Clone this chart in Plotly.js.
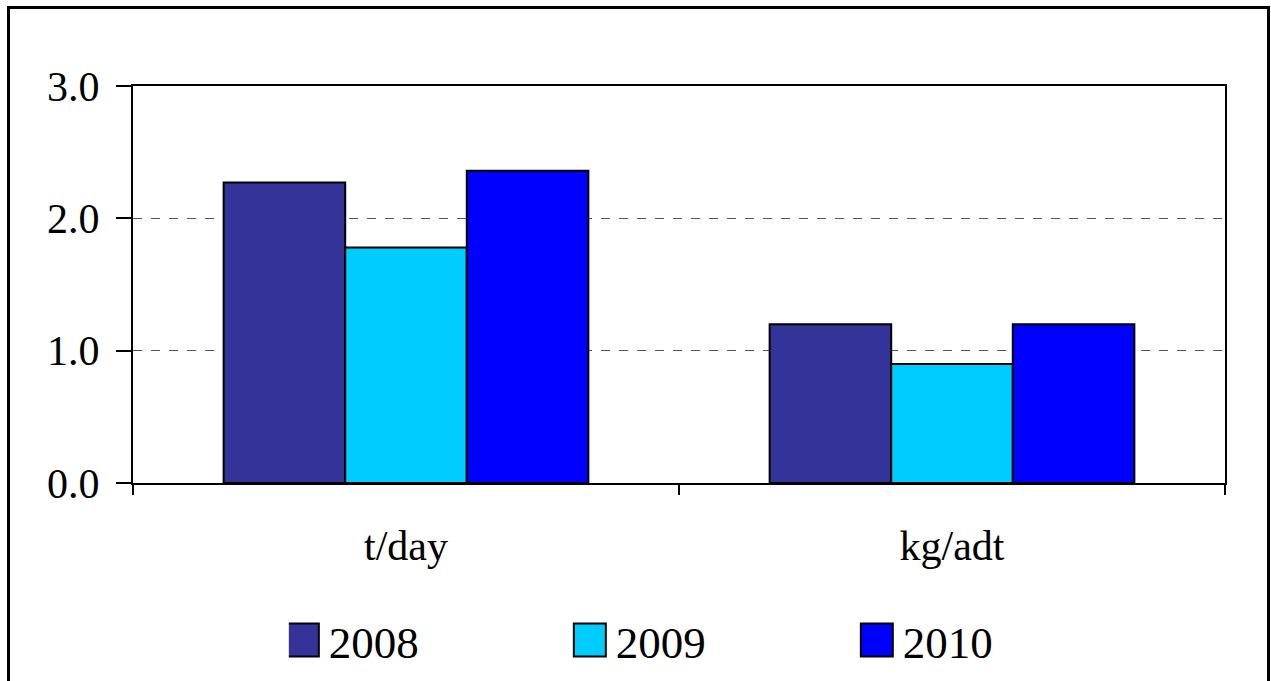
<!DOCTYPE html>
<html>
<head>
<meta charset="utf-8">
<script src="https://cdn.plot.ly/plotly-3.0.1.min.js"></script>
<style>
  html, body { margin: 0; padding: 0; background: #fff; }
  #chart { width: 1271px; height: 681px; }
  #frame { position: absolute; left: 7px; top: 6px; width: 1257px; height: 700px;
           border: 3px solid #000; pointer-events: none; }
</style>
</head>
<body>
<div id="chart"></div>
<div id="frame"></div>
<script>
const categories = ["t/day", "kg/adt"];
const seriesNames = ["2008", "2009", "2010"];
const values2008 = [2.27, 1.20];
const values2009 = [1.78, 0.90];
const values2010 = [2.36, 1.20];
const yTickVals = [0, 1, 2, 3];
const yTickText = ["0.0", "1.0", "2.0", "3.0"];

const colors = ["#333399", "#00CCFF", "#0000FF"];
const allValues = [values2008, values2009, values2010];
const FONT = "'Liberation Serif', 'Times New Roman', Times, serif";

const traces = allValues.map((vals, i) => ({
  type: "bar",
  name: seriesNames[i],
  x: categories,
  y: vals,
  marker: { color: colors[i], line: { color: "#000", width: 2 } },
  hoverinfo: "x+y+name"
}));

const layout = {
  width: 1271, height: 681,
  margin: { l: 133, r: 46, t: 86, b: 198, autoexpand: false },
  paper_bgcolor: "#fff", plot_bgcolor: "#fff",
  barmode: "group", bargap: 0.332, bargroupgap: 0,
  font: { family: FONT, color: "#000" },
  showlegend: true,
  legend: {
    orientation: "h", x: 0.1427, xanchor: "left", y: -0.396, yanchor: "middle",
    font: { family: FONT, size: 45, color: "#000" },
    entrywidthmode: "pixels", entrywidth: 242,
    itemwidth: 30, traceorder: "normal",
    itemclick: false, itemdoubleclick: false
  },
  xaxis: {
    type: "category",
    tickson: "boundaries",
    ticks: "outside", ticklen: 10, tickwidth: 2, tickcolor: "#000",
    showline: true, linecolor: "#000", linewidth: 2, mirror: true,
    showgrid: false, zeroline: false,
    tickfont: { family: FONT, size: 42, color: "#000" },
    ticklabelstandoff: 25
  },
  yaxis: {
    range: [0, 3],
    tickvals: yTickVals, ticktext: yTickText,
    ticks: "outside", ticklen: 15, tickwidth: 2, tickcolor: "#000",
    showline: true, linecolor: "#000", linewidth: 2, mirror: true,
    showgrid: true, gridcolor: "#555", gridwidth: 1, griddash: "dash",
    zeroline: false,
    tickfont: { family: FONT, size: 42, color: "#000" },
    ticklabelstandoff: 8
  }
};

Plotly.newPlot("chart", traces, layout, { displayModeBar: false }).then(gd => {
  // enlarge the legend swatches to the reference's tall squares
  gd.querySelectorAll(".legend .traces").forEach(tr => {
    const txt = tr.querySelector("text.legendtext");
    const p = tr.querySelector(".legendpoints path");
    if (!txt || !p) return;
    const tx = parseFloat(txt.getAttribute("x")) || 40;
    const right = tx - 10 - 20; // path coords relative to its group (centered at 20)
    p.setAttribute("d", `M${right},16.5H${right - 32}V-16.5H${right}Z`);
  });
});
</script>
</body>
</html>
